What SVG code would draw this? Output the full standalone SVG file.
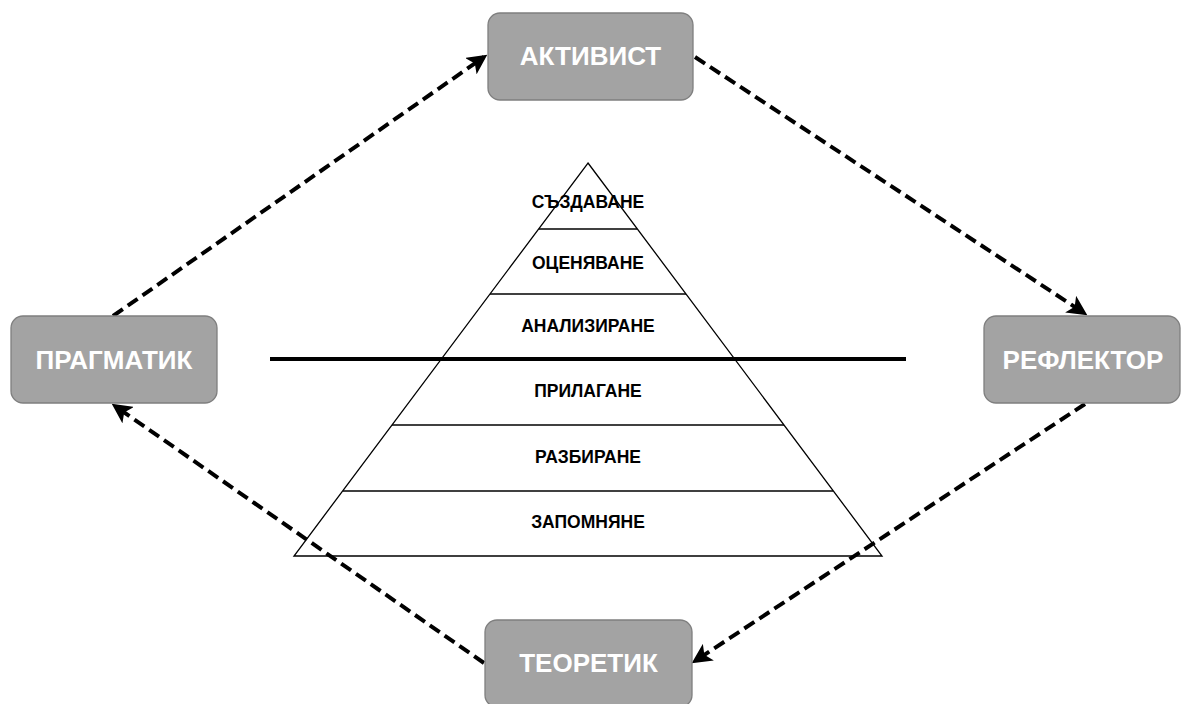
<svg xmlns="http://www.w3.org/2000/svg" width="1181" height="704" viewBox="0 0 1181 704">
<style>
.box{fill:#a3a3a3;stroke:#7f7f7f;stroke-width:1.3}
.lbl{font-family:"Liberation Sans",Arial,sans-serif;font-weight:bold;font-size:26px;fill:#ffffff;text-anchor:middle;dominant-baseline:central}
.pl{font-family:"Liberation Sans",Arial,sans-serif;font-weight:bold;font-size:17.5px;fill:#000;text-anchor:middle;dominant-baseline:central}
.conn{fill:none;stroke:#000;stroke-width:4;stroke-dasharray:12 6;marker-end:url(#ah)}
.ln{stroke:#000;stroke-width:1.3}
</style>
<defs>
<marker id="ah" markerWidth="5" markerHeight="5" refX="4" refY="2.5" orient="auto" markerUnits="strokeWidth">
<path d="M0,0 L5,2.5 L0,5 L1.2,2.5 Z" fill="#000"/>
</marker>
</defs>
<rect width="1181" height="704" fill="#fff"/>
<g id="pyramid">
<polygon points="588,163 882,556 294,556" fill="#fff" stroke="#000" stroke-width="1.3"/>
<line class="ln" x1="539" y1="229" x2="637" y2="229"/>
<line class="ln" x1="490" y1="294" x2="686" y2="294"/>
<line class="ln" x1="392" y1="425" x2="784" y2="425"/>
<line class="ln" x1="343" y1="491" x2="833" y2="491"/>
<text class="pl" x="588" y="202">СЪЗДАВАНЕ</text>
<text class="pl" x="588" y="263">ОЦЕНЯВАНЕ</text>
<text class="pl" x="588" y="326">АНАЛИЗИРАНЕ</text>
<text class="pl" x="588" y="391">ПРИЛАГАНЕ</text>
<text class="pl" x="588" y="457">РАЗБИРАНЕ</text>
<text class="pl" x="588" y="522">ЗАПОМНЯНЕ</text>
</g>
<g id="divider">
<line x1="270" y1="359" x2="906" y2="359" stroke="#000" stroke-width="4"/>
</g>
<g id="connectors">
<path class="conn" d="M113,316 L484,57"/>
<path class="conn" d="M695,57 L1084,313"/>
<path class="conn" d="M1085,404 L695,661"/>
<path class="conn" d="M484,663 L115,406"/>
</g>
<g id="activist">
<rect class="box" x="488" y="13" width="205" height="87" rx="12"/>
<text class="lbl" x="590.5" y="56">АКТИВИСТ</text>
</g>
<g id="pragmatik">
<rect class="box" x="11" y="316" width="206" height="87" rx="12"/>
<text class="lbl" x="114" y="360">ПРАГМАТИК</text>
</g>
<g id="reflektor">
<rect class="box" x="984" y="316" width="196" height="87" rx="12"/>
<text class="lbl" x="1083" y="360">РЕФЛЕКТОР</text>
</g>
<g id="teoretik">
<rect class="box" x="485" y="620" width="207" height="87" rx="12"/>
<text class="lbl" x="588.5" y="663">ТЕОРЕТИК</text>
</g>
</svg>
